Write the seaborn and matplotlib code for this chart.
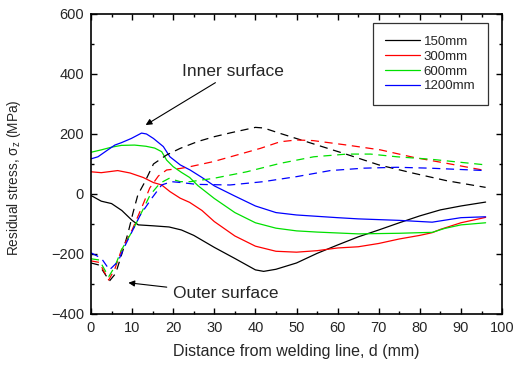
import numpy as np
import pandas as pd
import matplotlib
matplotlib.use("Agg")
import matplotlib.pyplot as plt
import seaborn as sns
from matplotlib.lines import Line2D
from matplotlib.ticker import MultipleLocator

# ---------------- data ----------------
sizes = ["150mm", "300mm", "600mm", "1200mm"]

# Inner surface (solid lines)
in_d_150 = [0, 2.5, 5, 7.5, 10, 11.5, 15, 19, 22, 25, 30, 35, 40, 42, 45, 50, 55, 60, 65, 70, 75, 80, 85, 90, 96]
in_s_150 = [-5, -24, -32, -55, -88, -103, -106, -110, -120, -138, -178, -215, -253, -258, -251, -230, -198, -170, -143, -120, -96, -73, -53, -40, -27]

in_d_300 = [0, 2.5, 6.5, 9.5, 12.7, 15.2, 17.2, 19.2, 21.7, 24, 27, 30, 35, 40, 45, 50, 55, 60, 65, 70, 75, 80, 83, 85, 90, 96]
in_s_300 = [74, 71, 78, 70, 55, 38, 30, 8, -14, -28, -55, -92, -140, -174, -191, -194, -189, -180, -176, -165, -150, -138, -129, -118, -96, -78]

in_d_600 = [0, 2.5, 5, 7.4, 10.6, 13.4, 15.5, 17.2, 18.4, 20, 22, 24, 26, 30, 35, 40, 45, 50, 55, 60, 65, 70, 75, 80, 83, 86, 90, 96]
in_s_600 = [139, 147, 156, 162, 163, 159, 153, 141, 113, 91, 72, 55, 28, -15, -62, -96, -114, -123, -127, -130, -133, -132, -131, -129, -128, -115, -103, -96]

in_d_1200 = [0, 1.7, 4.1, 5.8, 7.4, 9.8, 12.3, 13.5, 15.2, 17.6, 19.2, 21.7, 24.1, 27, 30, 35, 40, 45, 50, 60, 65, 75, 83, 90, 96]
in_s_1200 = [117, 124, 147, 163, 171, 185, 203, 200, 185, 158, 124, 97, 80, 55, 27, -7, -40, -62, -70, -79, -83, -88, -94, -79, -76]

# Outer surface (dashed lines)
out_d_150 = [0, 2, 4.5, 6, 7.8, 9, 10.2, 11.4, 13.1, 15.2, 18.4, 21.7, 26, 30, 34, 40, 42, 46, 52.5, 62, 70, 78.5, 86.6, 96]
out_s_150 = [-230, -237, -290, -265, -187, -131, -64, -3, 40, 100, 130, 152, 175, 191, 204, 222, 220, 202, 174, 133, 97, 69, 44, 22]

out_d_300 = [0, 2, 4.3, 5.8, 7.4, 10, 12.5, 14.3, 16.4, 18.4, 21.7, 24.1, 29.8, 36.3, 41.2, 46, 50, 54, 62.3, 70.4, 78.5, 86.6, 96]
out_s_300 = [-223, -228, -287, -250, -187, -120, -40, 20, 60, 80, 85, 91, 108, 133, 152, 174, 180, 178, 163, 147, 122, 102, 78]

out_d_600 = [0, 2, 4.3, 5.8, 7.4, 10, 12, 14.4, 16.8, 19, 21.7, 24.1, 29.8, 37.9, 46, 54.2, 62.3, 68, 74.4, 82.5, 96]
out_s_600 = [-216, -220, -276, -242, -187, -125, -70, -3, 36, 52, 41, 41, 52, 74, 102, 124, 133, 133, 124, 116, 97]

out_d_1200 = [0, 2.5, 4.5, 6.6, 8, 10, 12, 14.8, 17.2, 19.6, 22, 25.7, 33.8, 41.9, 50.1, 58.2, 66.3, 74.4, 82.5, 96]
out_s_1200 = [-196, -214, -253, -225, -180, -125, -70, -14, 30, 41, 38, 32, 30, 41, 58, 78, 86, 89, 86, 78]

colors = ["#000000", "#ff0000", "#00e000", "#0000ff"]

# --------------- build tables ---------------
inner = {"150mm": (in_d_150, in_s_150), "300mm": (in_d_300, in_s_300),
         "600mm": (in_d_600, in_s_600), "1200mm": (in_d_1200, in_s_1200)}
outer = {"150mm": (out_d_150, out_s_150), "300mm": (out_d_300, out_s_300),
         "600mm": (out_d_600, out_s_600), "1200mm": (out_d_1200, out_s_1200)}

rows = []
for surf, dd in (("Inner", inner), ("Outer", outer)):
    for k in sizes:
        d, s = dd[k]
        for i, (x, y) in enumerate(zip(d, s)):
            rows.append({"d": x, "s": y, "size": k, "surface": surf, "i": i})
df = pd.DataFrame(rows)

# --------------- plot ---------------
sns.set_theme(style="white")
plt.rcParams["font.family"] = ["Liberation Sans", "DejaVu Sans"]
plt.rcParams["mathtext.default"] = "regular"

fig = plt.figure(figsize=(5.25, 3.72), dpi=100)
ax = fig.add_axes([0.1733, 0.156, 0.783, 0.8064])

pal = dict(zip(sizes, colors))
sns.lineplot(data=df[df.surface == "Inner"], x="d", y="s", hue="size", hue_order=sizes,
             palette=pal, estimator=None, sort=False, units="size", lw=0.9, ax=ax, legend=False)
sns.lineplot(data=df[df.surface == "Outer"], x="d", y="s", hue="size", hue_order=sizes,
             palette=pal, estimator=None, sort=False, units="size", lw=0.9, ax=ax, legend=False)
# dashed style for outer-surface lines
lines = ax.get_lines()
for ln in lines[len(sizes):]:
    ln.set_linestyle((0, (6.5, 4.5)))

ax.set_xlim(0, 100)
ax.set_ylim(-400, 600)
ax.xaxis.set_major_locator(MultipleLocator(10))
ax.xaxis.set_minor_locator(MultipleLocator(5))
ax.yaxis.set_major_locator(MultipleLocator(200))
ax.yaxis.set_minor_locator(MultipleLocator(100))
ax.tick_params(which="both", direction="in", top=True, right=True, bottom=True, left=True,
               width=1.0, color="black")
ax.tick_params(which="major", length=4, labelsize=10.5, pad=5)
ax.tick_params(which="minor", length=2.2)
for sp in ax.spines.values():
    sp.set_linewidth(1.2)
    sp.set_color("black")

ax.set_xlabel("Distance from welding line, d (mm)", fontsize=11.5)
ax.set_ylabel("Residual stress, σ$_z$ (MPa)", fontsize=9.8)
ax.yaxis.set_label_coords(-0.165, 0.455)
ax.xaxis.set_label_coords(0.5, -0.1)

handles = [Line2D([], [], color=c, lw=0.9) for c in colors]
leg = ax.legend(handles, sizes, loc="upper right", bbox_to_anchor=(0.965, 0.97), fontsize=9.5,
                frameon=True, fancybox=False, edgecolor="black", handlelength=2.6,
                handletextpad=0.3, labelspacing=0.2, borderpad=0.95, borderaxespad=0)
leg.get_frame().set_linewidth(0.9)

ax.annotate("Inner surface", xy=(13.3, 230), xytext=(22.2, 407), fontsize=12.5,
            va="center", ha="left",
            arrowprops=dict(arrowstyle="-|>", color="black", lw=0.8, mutation_scale=9,
                            shrinkA=0, shrinkB=0),
            )
ax.annotate("Outer surface", xy=(9.1, -296), xytext=(19.9, -333), fontsize=12.5,
            va="center", ha="left",
            arrowprops=dict(arrowstyle="-|>", color="black", lw=0.8, mutation_scale=9,
                            shrinkA=2, shrinkB=0),
            )

fig.savefig("out.png", dpi=100)
